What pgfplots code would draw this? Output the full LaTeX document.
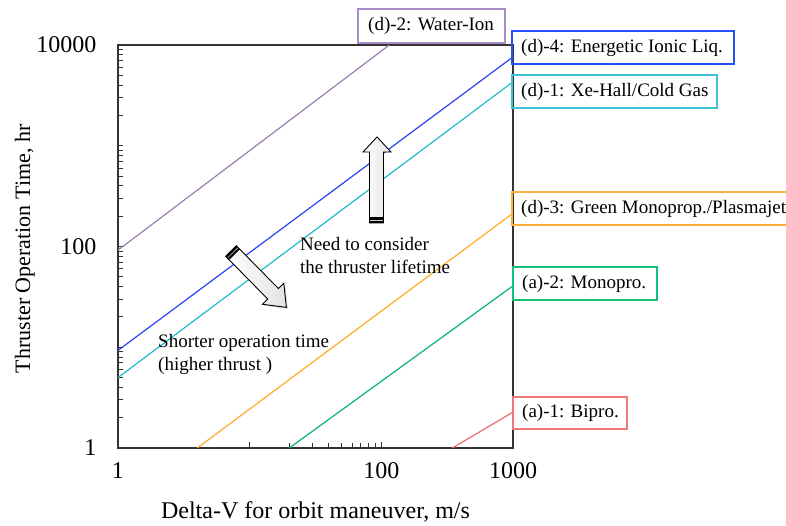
\documentclass[border=0pt]{standalone}
\usepackage{fontspec}
\setmainfont{Liberation Serif}
\usepackage{pgfplots}
\pgfplotsset{compat=1.18}
\usetikzlibrary{shadows}
\definecolor{cpurple}{RGB}{155,125,180}
\definecolor{cblue}{RGB}{45,65,245}
\definecolor{ccyan}{RGB}{35,185,205}
\definecolor{corange}{RGB}{255,170,40}
\definecolor{cgreen}{RGB}{10,180,110}
\definecolor{cred}{RGB}{235,110,110}
\definecolor{cbpurple}{RGB}{170,140,200}
\definecolor{cbblue}{RGB}{40,80,250}
\definecolor{cbcyan}{RGB}{60,195,215}
\definecolor{cborange}{RGB}{255,175,60}
\definecolor{cbgreen}{RGB}{20,190,120}
\definecolor{cbred}{RGB}{240,120,120}
\begin{document}
\begin{tikzpicture}
\path[use as bounding box] (0pt,0pt) rectangle (786pt,526pt);
\begin{axis}[
  at={(118pt,78pt)}, anchor=south west,
  width=395pt, height=403pt, scale only axis,
  xmode=log, ymode=log,
  xmin=1, xmax=1000, ymin=1, ymax=10000,
  xtick={1,10,100,1000}, xticklabels={1,,100,1000},
  minor xtick={20,30,40,50,60,70,80,90},
  ytick={1,100,10000}, yticklabels={1,100,10000},
  minor ytick={2,3,4,5,6,7,8,9,10,20,30,40,50,60,70,80,90,200,300,400,500,600,700,800,900,1000,2000,3000,4000,5000,6000,7000,8000,9000},
  xtick pos=bottom, ytick pos=left,
  tick align=inside,
  major tick length=6pt, minor tick length=5pt,
  axis line style={line width=1.3pt, black!80},
  tick style={line width=0.9pt, black!80},
  ticklabel style={font=\fontsize{24}{24}\selectfont},
  xticklabel style={yshift=-11pt},
  yticklabel style={xshift=-18pt},
  xlabel={Delta-V for orbit maneuver, m/s},
  ylabel={Thruster Operation Time, hr},
  xlabel style={font=\fontsize{24}{28}\selectfont, at={(axis description cs:0.5,-0.159)}, anchor=center},
  ylabel style={font=\fontsize{22}{26}\selectfont, at={(axis description cs:-0.236,0.494)}, anchor=center},
  every axis plot/.append style={line width=1.2pt, no marks},
]
\addplot[cpurple] coordinates {(1,92) (115,10000)};
\addplot[cblue] coordinates {(1,9.3) (1000,7620)};
\addplot[ccyan] coordinates {(1,5.0) (1000,4310)};
\addplot[corange] coordinates {(4,1) (1000,214)};
\addplot[cgreen] coordinates {(20,1) (1000,40.7)};
\addplot[cred] coordinates {(346,1) (1000,2.27)};
\end{axis}
\begin{scope}[shift={(0pt,526pt)}, x=1pt, y=-1pt]
  % callout boxes
  \draw[cbpurple, line width=1.4pt] (358,9) rectangle (505,43);
  \node[anchor=west, inner sep=0pt, font=\fontsize{19}{19}\selectfont] at (368,26) {(d)-2: Water-Ion};
  \draw[cbblue, line width=1.4pt] (512,31) rectangle (734,64);
  \node[anchor=west, inner sep=0pt, font=\fontsize{19}{19}\selectfont] at (521,47.5) {(d)-4: Energetic Ionic Liq.};
  \draw[cbcyan, line width=1.4pt] (512,75) rectangle (717,108);
  \node[anchor=west, inner sep=0pt, font=\fontsize{19}{19}\selectfont] at (521,91.5) {(d)-1: Xe-Hall/Cold Gas};
  \draw[cborange, line width=1.4pt] (512,192) rectangle (800,225);
  \node[anchor=west, inner sep=0pt, font=\fontsize{19}{19}\selectfont] at (521,208.5) {(d)-3: Green Monoprop./Plasmajet};
  \draw[cbgreen, line width=1.4pt] (513,267) rectangle (657,300);
  \node[anchor=west, inner sep=0pt, font=\fontsize{19}{19}\selectfont] at (522,283.5) {(a)-2: Monopro.};
  \draw[cbred, line width=1.4pt] (513,397) rectangle (627,429);
  \node[anchor=west, inner sep=0pt, font=\fontsize{19}{19}\selectfont] at (522,413) {(a)-1: Bipro.};
  % annotation texts
  \node[anchor=west, inner sep=0pt, align=left, font=\fontsize{19}{23}\selectfont] at (300,256) {Need to consider\\the thruster lifetime};
  \node[anchor=west, inner sep=0pt, align=left, font=\fontsize{19}{23}\selectfont] at (158,354) {Shorter operation time\\(higher thrust )};
  % up arrow
  \draw[line width=0.9pt, black, left color=white, right color=gray!22]
    (377,137) -- (391,152) -- (383.5,152) -- (383.5,223) -- (369.5,223) -- (369.5,152) -- (363,152) -- cycle;
  \fill[black] (369.5,217) rectangle (383.5,223);
  \draw[gray!40, line width=0.6pt] (370,220) -- (383,220);
  % diagonal arrow
  \begin{scope}[shift={(231pt,-251pt)}, rotate=-45.5]
    \draw[line width=0.9pt, black, left color=white, right color=gray!22,
          drop shadow={shadow xshift=1.5pt, shadow yshift=-1.5pt, opacity=0.35}]
      (0,-7.5) -- (60,-7.5) -- (60,-15) -- (79,0) -- (60,15) -- (60,7.5) -- (0,7.5) -- cycle;
    \fill[black] (0,-7.5) rectangle (5,7.5);
    \draw[gray!40, line width=0.6pt] (2.5,-7) -- (2.5,7);
  \end{scope}
\end{scope}
\end{tikzpicture}
\end{document}
